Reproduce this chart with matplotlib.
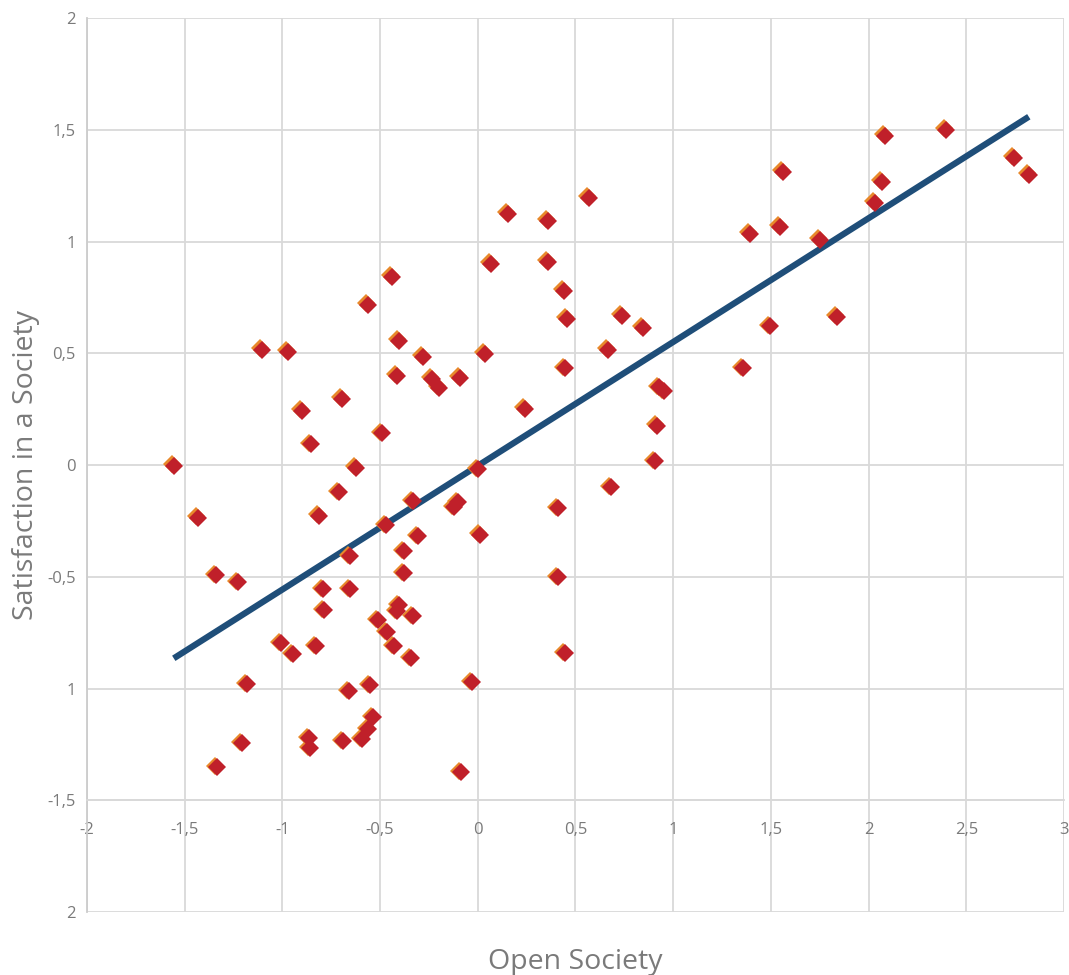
import numpy as np
import matplotlib
matplotlib.use('Agg')
from matplotlib import pyplot as plt
from matplotlib import transforms

open_society = [
    -1.556, -1.433, -1.341, -1.228, -1.105, -0.972, -1.182, -1.208, -1.336, -1.008,
    -0.947, -0.901, -0.855, -0.814, -0.793, -0.788, -0.829, -0.865, -0.860, -0.696,
    -0.711, -0.624, -0.655, -0.655, -0.660, -0.691, -0.563, -0.491, -0.471, -0.512,
    -0.466, -0.430, -0.553, -0.537, -0.563, -0.594, -0.440, -0.404, -0.415, -0.379,
    -0.379, -0.404, -0.415, -0.333, -0.343, -0.333, -0.307, -0.281, -0.235, -0.200,
    -0.092, -0.102, -0.123, -0.087, -0.031, 0.000, 0.010, 0.036, 0.067, 0.154,
    0.241, 0.358, 0.358, 0.409, 0.409, 0.440, 0.455, 0.445, 0.445, 0.568,
    0.665, 0.737, 0.681, 0.844, 0.926, 0.952, 0.916, 0.906, 1.356, 1.392,
    1.494, 1.546, 1.561, 1.750, 1.837, 2.032, 2.068, 2.083, 2.395, 2.743,
    2.820,
]
satisfaction = [
    -0.004, -0.237, -0.493, -0.524, 0.515, 0.506, -0.981, -1.245, -1.352, -0.797,
    -0.846, 0.242, 0.094, -0.228, -0.555, -0.649, -0.811, -1.223, -1.267, 0.296,
    -0.121, -0.013, -0.408, -0.555, -1.012, -1.236, 0.717, 0.143, -0.269, -0.694,
    -0.748, -0.811, -0.985, -1.129, -1.182, -1.227, 0.842, 0.555, 0.399, -0.385,
    -0.484, -0.627, -0.654, -0.676, -0.864, -0.161, -0.318, 0.484, 0.385, 0.345,
    0.390, -0.166, -0.188, -1.375, -0.972, -0.018, -0.313, 0.497, 0.900, 1.124,
    0.251, 1.093, 0.909, -0.193, -0.502, 0.779, 0.654, 0.434, -0.842, 1.196,
    0.515, 0.667, -0.099, 0.614, 0.349, 0.331, 0.175, 0.018, 0.434, 1.034,
    0.622, 1.066, 1.312, 1.008, 0.663, 1.173, 1.267, 1.473, 1.500, 1.375,
    1.299,
]

x_ticks = [-2, -1.5, -1, -0.5, 0, 0.5, 1, 1.5, 2, 2.5, 3]
x_labels = ['-2', '-1,5', '-1', '-0,5', '0', '0,5', '1', '1,5', '2', '2,5', '3']
y_ticks = [-2, -1.5, -1, -0.5, 0, 0.5, 1, 1.5, 2]
y_labels = ['2', '-1,5', '1', '-0,5', '0', '0,5', '1', '1,5', '2']

plt.rcParams['font.family'] = ['Open Sans', 'DejaVu Sans']
gray_text = '#7a7a7a'
grid_col = '#d9d9d9'

fig = plt.figure(figsize=(10.69, 9.75), dpi=100)
ax = fig.add_axes([0.0814, 0.0646, 0.9139, 0.9169])

x = np.array(open_society)
y = np.array(satisfaction)

# linear trend over the data range
slope, intercept = np.polyfit(x, y, 1)
xs = np.array([x.min(), x.max()])
ax.plot(xs, slope * xs + intercept, color='#1f4e79', lw=4.5, zorder=2, solid_capstyle='butt')

# markers: orange shade up-left, red diamond on top
shade = transforms.offset_copy(ax.transData, fig=fig, x=-1.5, y=1.5, units='dots')
ax.plot(x, y, 'D', ms=9.5, color='#e8892b', mew=0, transform=shade, zorder=3)
ax.plot(x, y, 'D', ms=9.5, color='#c0202a', mew=0, zorder=4)

ax.set_xlim(-2, 3)
ax.set_ylim(-2, 2)
ax.set_xticks(x_ticks)
ax.set_xticklabels(x_labels)
ax.set_yticks(y_ticks)
ax.set_yticklabels(y_labels)
ax.grid(True, color=grid_col, lw=1.3, zorder=0)
ax.set_axisbelow(True)

for side in ['top', 'right']:
    ax.spines[side].set_visible(False)
ax.spines['bottom'].set_position(('data', -1.5))
ax.spines['bottom'].set_color(grid_col)
ax.spines['bottom'].set_linewidth(1.3)
ax.spines['left'].set_color('#cccccc')
ax.spines['left'].set_linewidth(1.3)

ax.tick_params(axis='both', length=0, labelsize=12, labelcolor=gray_text)
ax.tick_params(axis='x', pad=16)
ax.tick_params(axis='y', pad=8)

ax.set_xlabel('Open Society', fontsize=20.5, color=gray_text)
ax.xaxis.set_label_coords(0.5, -0.04)
ax.set_ylabel('Satisfaction in a Society', fontsize=20.5, color=gray_text)
ax.yaxis.set_label_coords(-0.048, 0.5)

fig.savefig('out.png', dpi=100)
